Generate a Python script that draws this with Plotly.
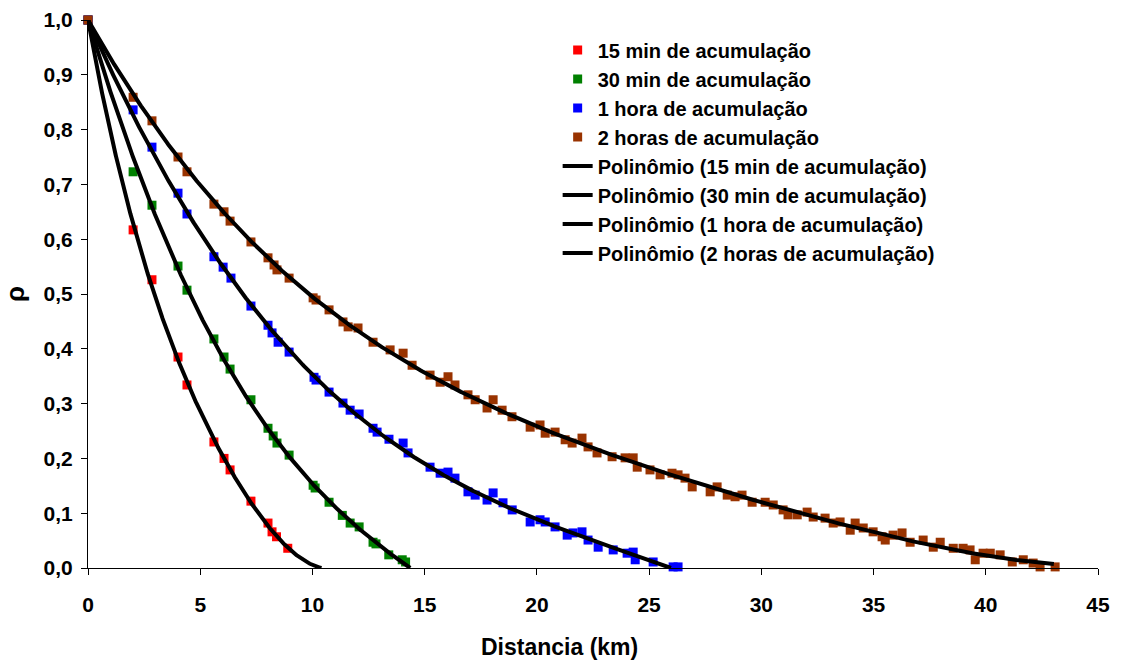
import numpy as np
import plotly.graph_objects as go

# ---- data ----
x_15 = [0, 2.01, 2.85, 4.01, 4.41, 5.61, 6.06, 6.33, 7.26, 8.02, 8.2, 8.4, 8.9]
y_15 = [1.0, 0.617, 0.526, 0.385, 0.334, 0.230, 0.200, 0.179, 0.122, 0.082, 0.066, 0.057, 0.036]

x_30 = [0, 2.01, 2.85, 4.01, 4.41, 5.61, 6.06, 6.33, 7.26, 8.02, 8.25, 8.42, 8.96, 10.03,
        10.12, 10.74, 11.33, 11.68, 12.08, 12.7, 12.83, 13.4, 14.0, 14.15]
y_30 = [1.0, 0.723, 0.662, 0.551, 0.507, 0.418, 0.385, 0.363, 0.307, 0.255, 0.241, 0.228, 0.206, 0.151,
        0.146, 0.120, 0.096, 0.082, 0.075, 0.047, 0.044, 0.024, 0.015, 0.011]

x_1h = [0, 2.01, 2.85, 4.01, 4.41, 5.61, 6.02, 6.37, 7.26, 8.02, 8.2, 8.47, 8.96, 10.07, 10.16,
        10.74, 11.36, 11.68, 12.08, 12.7, 12.88, 13.41, 14.04, 14.26, 15.24, 15.69, 16.04, 16.35,
        16.93, 17.25, 17.78, 18.05, 18.49, 18.9, 19.7, 20.14, 20.37, 20.81, 21.35, 21.61, 22.01,
        22.28, 22.73, 23.4, 24.02, 24.29, 24.38, 25.18, 26.07, 26.29]
y_1h = [1.0, 0.836, 0.768, 0.684, 0.646, 0.568, 0.549, 0.529, 0.478, 0.443, 0.429, 0.412, 0.394, 0.348, 0.343,
        0.321, 0.301, 0.288, 0.281, 0.255, 0.248, 0.235, 0.228, 0.210, 0.184, 0.173, 0.175, 0.164,
        0.139, 0.133, 0.124, 0.137, 0.119, 0.106, 0.084, 0.088, 0.084, 0.075, 0.060, 0.064, 0.066,
        0.051, 0.038, 0.033, 0.027, 0.029, 0.015, 0.011, 0.002, 0.002]

x_2h = [0, 2.01, 2.85, 4.01, 4.41, 5.61, 6.06, 6.33, 7.26, 8.02, 8.29, 8.42, 8.96, 10.03, 10.16,
        10.74, 11.36, 11.59, 12.03, 12.70, 13.46, 14.04, 14.44, 15.24, 15.69, 16.04, 16.35, 16.93,
        17.25, 17.78, 18.05, 18.45, 18.89, 19.70, 20.14, 20.37, 20.81, 21.26, 21.57, 22.01, 22.28,
        22.68, 23.35, 23.93, 24.29, 24.47, 25.04, 25.49, 26.02, 26.29, 26.60, 26.92, 27.72, 28.03,
        28.48, 28.83, 29.14, 29.59, 30.17, 30.53, 30.97, 31.19, 31.60, 32.04, 32.31, 32.84, 33.20,
        33.51, 33.96, 34.18, 34.54, 34.98, 35.38, 35.52, 35.87, 36.27, 36.63, 37.21, 37.66, 37.97,
        38.55, 38.99, 39.30, 39.53, 39.88, 40.20, 40.64, 41.18, 41.67, 42.11, 42.42, 43.09]
y_2h = [1.0, 0.859, 0.816, 0.750, 0.723, 0.664, 0.650, 0.633, 0.595, 0.566, 0.553, 0.544, 0.529, 0.493, 0.489,
        0.471, 0.449, 0.440, 0.438, 0.412, 0.398, 0.392, 0.370, 0.352, 0.339, 0.349, 0.334, 0.316,
        0.307, 0.292, 0.307, 0.288, 0.276, 0.257, 0.261, 0.246, 0.248, 0.234, 0.228, 0.237, 0.221,
        0.210, 0.203, 0.201, 0.201, 0.184, 0.179, 0.170, 0.173, 0.170, 0.164, 0.148, 0.139, 0.148,
        0.133, 0.130, 0.133, 0.120, 0.120, 0.115, 0.106, 0.097, 0.097, 0.102, 0.093, 0.091, 0.082,
        0.084, 0.069, 0.082, 0.073, 0.066, 0.057, 0.051, 0.060, 0.064, 0.047, 0.051, 0.038, 0.047,
        0.036, 0.036, 0.033, 0.015, 0.027, 0.027, 0.024, 0.011, 0.015, 0.009, 0.002, 0.002]

names = ["15 min de acumulação", "30 min de acumulação", "1 hora de acumulação", "2 horas de acumulação"]
colors = ["#FF0000", "#008000", "#0000FF", "#993300"]
fit_orders = [4, 3, 3, 4]   # polynomial trendline order per series (intercept fixed at 1)
series = [(x_15, y_15), (x_30, y_30), (x_1h, y_1h), (x_2h, y_2h)]

x_ticks = [0, 5, 10, 15, 20, 25, 30, 35, 40, 45]
x_ticktext = ["0", "5", "10", "15", "20", "25", "30", "35", "40", "45"]
y_ticks = [0, 0.1, 0.2, 0.3, 0.4, 0.5, 0.6, 0.7, 0.8, 0.9, 1.0]
y_ticktext = ["0,0", "0,1", "0,2", "0,3", "0,4", "0,5", "0,6", "0,7", "0,8", "0,9", "1,0"]

FONT = "Liberation Sans"

fig = go.Figure()

for (xs, ys), name, col in zip(series, names, colors):
    fig.add_trace(go.Scatter(x=xs, y=ys, mode="markers", name="<b>" + name + "</b>",
                             marker=dict(symbol="square", size=9, color=col, line=dict(width=0)),
                             cliponaxis=False))

# polynomial trendlines (least squares, intercept fixed at 1)
for (xs, ys), name, deg in zip(series, names, fit_orders):
    xa = np.asarray(xs, float)
    ya = np.asarray(ys, float)
    A = np.vstack([xa ** k for k in range(1, deg + 1)]).T
    c, *_ = np.linalg.lstsq(A, ya - 1.0, rcond=None)
    xf = np.linspace(0, xa.max() + 3, 800)
    yf = 1.0 + sum(c[k - 1] * xf ** k for k in range(1, deg + 1))
    neg = np.where(yf < 0)[0]
    if len(neg):
        i = neg[0]
        x0, x1, y0, y1 = xf[i - 1], xf[i], yf[i - 1], yf[i]
        xr = x0 - y0 * (x1 - x0) / (y1 - y0)
        xf = np.append(xf[:i], xr)
        yf = np.append(yf[:i], 0.0)
    else:
        keep = xf <= xa.max()
        xf, yf = xf[keep], yf[keep]
    fig.add_trace(go.Scatter(x=xf, y=yf, mode="lines", name="<b>Polinômio (" + name + ")</b>",
                             line=dict(color="black", width=4)))

fig.add_annotation(text="<b>Distancia (km)</b>", xref="paper", yref="paper",
                   x=0.467, y=-0.144, xanchor="center", yanchor="middle", showarrow=False,
                   font=dict(family=FONT, size=23, color="black"))

fig.update_layout(
    width=1122, height=662,
    margin=dict(l=88, r=24, t=20, b=94),
    paper_bgcolor="white", plot_bgcolor="white",
    font=dict(family=FONT, size=20, color="black"),
    showlegend=True,
    legend=dict(x=0.465, y=0.981, xanchor="left", yanchor="top",
                font=dict(family=FONT, size=20, color="black"),
                bgcolor="rgba(0,0,0,0)", tracegroupgap=0, itemwidth=30),
    xaxis=dict(range=[0, 45], tickmode="array", tickvals=x_ticks,
               ticktext=["<b>" + t + "</b>" for t in x_ticktext],
               showgrid=False, zeroline=False, showline=True, linecolor="black", linewidth=1,
               ticks="outside", ticklen=6, tickcolor="black", ticklabelstandoff=12,
               tickfont=dict(family=FONT, size=21), automargin=False),
    yaxis=dict(range=[0, 1.0], tickmode="array", tickvals=y_ticks,
               ticktext=["<b>" + t + "</b>" for t in y_ticktext],
               showgrid=False, zeroline=False, showline=True, linecolor="black", linewidth=1,
               ticks="outside", ticklen=6, tickcolor="black", ticklabelstandoff=4,
               tickfont=dict(family=FONT, size=21), automargin=False,
               title=dict(text="<b>ρ</b>", font=dict(family=FONT, size=26), standoff=12)),
)

fig.write_html("out.html")
